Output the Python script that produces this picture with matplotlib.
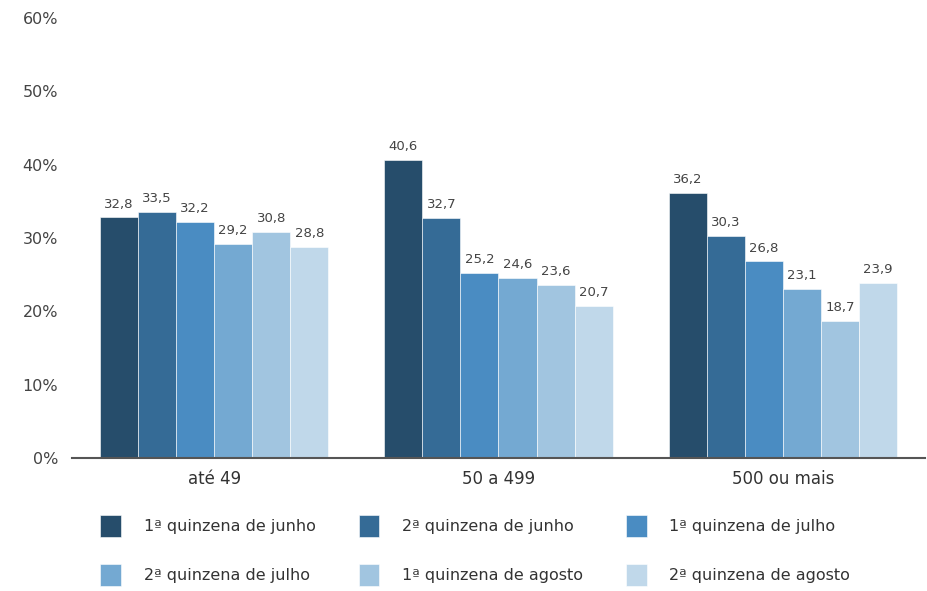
import numpy as np
import matplotlib.pyplot as plt

plt.rcParams['font.family'] = ['DejaVu Sans']

categories = ['até 49', '50 a 499', '500 ou mais']
series = ['1ª quinzena de junho', '2ª quinzena de junho', '1ª quinzena de julho',
          '2ª quinzena de julho', '1ª quinzena de agosto', '2ª quinzena de agosto']
values = [
    [32.8, 40.6, 36.2],
    [33.5, 32.7, 30.3],
    [32.2, 25.2, 26.8],
    [29.2, 24.6, 23.1],
    [30.8, 23.6, 18.7],
    [28.8, 20.7, 23.9],
]
colors = ['#264d6b', '#356b96', '#4a8cc2', '#74a9d2', '#a1c5e0', '#c0d8ea']

fig = plt.figure(figsize=(9.28, 5.91), dpi=100)
ax = fig.add_axes([72/928, 1-458/591, 853/928, 440/591])

x = np.arange(len(categories))
w = 0.134
for i, (name, vals) in enumerate(zip(series, values)):
    pos = x + (i - 2.5) * w
    bars = ax.bar(pos, vals, w, color=colors[i], label=name,
                  edgecolor='white', linewidth=0.4)
    for b, v in zip(bars, vals):
        ax.annotate(f'{v:.1f}'.replace('.', ','), (b.get_x() + b.get_width()/2, v),
                    xytext=(0, 5), textcoords='offset points',
                    ha='center', va='bottom', fontsize=9.5, color='#444444')

ax.set_xlim(-0.5, 2.5)
ax.set_ylim(0, 60)
ax.set_yticks(range(0, 61, 10))
ax.set_yticklabels([f'{t}%' for t in range(0, 61, 10)])
ax.set_xticks(x)
ax.set_xticklabels(categories)
ax.tick_params(axis='y', length=0, pad=10, labelsize=11.5, labelcolor='#444444')
ax.tick_params(axis='x', length=0, pad=9, labelsize=12, labelcolor='#333333')
for s in ['top', 'right', 'left']:
    ax.spines[s].set_visible(False)
ax.spines['bottom'].set_color('#555555')
ax.spines['bottom'].set_linewidth(1.5)

# legend fills row by row in the original
handles, labels = ax.get_legend_handles_labels()
order = [0, 3, 1, 4, 2, 5]
fig.legend([handles[k] for k in order], [labels[k] for k in order],
           loc='upper left', bbox_to_anchor=(86/928, 1-501/591), ncol=3,
           frameon=False, fontsize=11.5, handlelength=1.3, handleheight=1.7,
           handletextpad=1.4, columnspacing=2.7, labelspacing=1.7,
           labelcolor='#333333')

fig.savefig('out.png', dpi=100)
